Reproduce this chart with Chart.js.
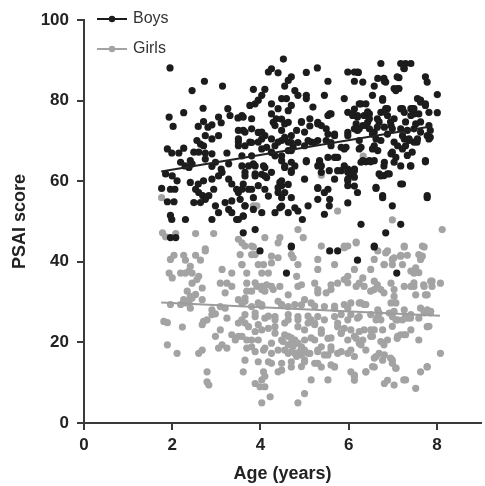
<!DOCTYPE html>
<html>
<head>
<meta charset="utf-8">
<script src="https://cdn.jsdelivr.net/npm/chart.js@4.4.0/dist/chart.umd.min.js"></script>
<style>
  body { margin: 0; background: #fff; }
  canvas { display: block; }
</style>
</head>
<body>
<canvas id="psai" width="485" height="486"></canvas>
<script>
// Axis ticks
const xTicks = [0, 2, 4, 6, 8];
const yTicks = [0, 20, 40, 60, 80, 100];

// Individual children, [age in years, PSAI score]
const boysPoints = [
  [1.95,88.1],[2.73,84.8],[2.45,82.5],[3.14,83.6],[1.93,75.9],[2.02,73.6],[2.26,77.0],[2.70,78.1],[2.59,73.6],[2.71,74.8],
  [2.81,73.4],[2.90,74.0],[3.05,75.9],[3.11,74.5],[3.26,78.0],[3.31,76.3],[3.49,75.7],[3.61,75.9],[2.75,71.3],[2.90,70.5],
  [3.05,71.3],[2.56,70.1],[2.64,69.2],[2.71,68.8],[1.89,68.0],[1.99,67.0],[2.15,67.0],[2.26,68.2],[2.49,67.2],[2.60,67.2],
  [2.75,67.0],[2.90,66.8],[3.24,67.0],[3.50,70.5],[3.50,68.8],[3.61,72.6],[2.19,64.7],[2.29,63.8],[2.38,63.4],[2.41,65.1],
  [2.45,64.3],[2.75,65.5],[2.90,63.7],[2.98,64.7],[3.11,63.0],[3.28,64.3],[2.90,60.5],[2.71,60.1],[2.59,59.3],[2.53,58.0],
  [2.60,57.2],[2.69,56.4],[2.75,55.5],[2.83,56.4],[2.94,58.0],[3.05,61.3],[3.13,62.2],[3.28,60.5],[3.35,59.3],[3.46,58.0],
  [3.50,57.2],[3.54,55.5],[3.61,59.3],[3.65,62.2],[1.85,61.8],[2.00,61.3],[2.11,60.1],[1.76,58.2],[1.96,58.0],[2.06,58.0],
  [1.89,54.9],[2.04,54.9],[1.96,51.5],[1.99,50.5],[1.96,46.0],[2.08,46.0],[2.30,50.5],[2.41,59.7],[2.49,54.7],[2.64,54.7],
  [2.98,53.9],[3.05,52.2],[2.90,50.5],[3.20,54.7],[3.28,53.0],[3.35,52.2],[3.46,50.5],[3.61,51.3],[3.61,47.2],[3.35,55.1],
  [3.65,53.9],
  [4.52,90.3],[4.25,87.9],[4.18,87.1],[4.40,86.9],[5.29,88.1],[5.04,87.0],[5.98,87.1],[6.13,87.1],[6.22,87.0],[6.73,89.2],
  [7.18,89.2],[7.41,89.2],[7.26,87.9],[4.70,85.9],[4.63,85.0],[4.55,83.6],[5.53,84.8],[6.13,84.8],[6.32,84.6],[6.66,85.5],
  [6.81,84.8],[6.58,83.6],[7.14,85.7],[7.03,83.0],[7.11,83.0],[7.74,85.9],[7.78,84.6],[3.84,82.8],[4.10,82.8],[4.03,81.3],
  [3.95,80.1],[4.78,82.5],[4.85,81.3],[5.04,81.3],[5.04,80.5],[5.45,81.3],[4.48,80.5],[4.59,80.5],[5.90,80.5],[6.54,81.3],
  [6.77,80.5],[7.56,80.5],[7.63,79.6],[8.01,81.5],[3.76,78.8],[3.88,79.2],[4.25,79.2],[4.40,78.0],[4.70,78.8],[5.19,78.4],
  [6.28,79.2],[6.39,79.2],[6.88,78.0],[7.18,78.0],[7.41,78.0],[7.74,78.8],[3.58,76.3],[3.80,75.5],[4.25,76.7],[4.36,75.5],
  [4.63,74.6],[4.55,74.2],[4.93,74.8],[5.12,75.5],[5.30,74.6],[5.53,76.3],[5.60,76.7],[6.09,76.7],[6.20,76.3],[6.35,76.3],
  [6.47,76.7],[6.73,77.1],[6.88,76.3],[7.03,75.5],[7.26,77.1],[7.41,76.3],[7.59,76.7],[7.82,77.1],[8.01,77.0],[7.48,78.0],
  [7.82,73.8],[3.50,72.6],[3.65,72.2],[3.80,73.0],[4.03,72.2],[4.10,71.3],[4.33,73.8],[4.48,72.6],[4.70,71.3],[4.82,72.6],
  [5.00,72.2],[5.38,73.8],[5.49,73.0],[5.53,71.7],[5.68,71.3],[5.98,71.3],[6.13,73.0],[6.20,72.6],[6.32,73.8],[6.43,74.6],
  [6.58,72.2],[6.81,73.4],[6.96,73.8],[7.33,72.6],[7.48,73.0],[7.63,72.2],[7.78,71.3],[3.50,69.7],[3.65,68.8],[3.76,69.7],
  [3.95,69.7],[4.14,68.4],[4.25,70.5],[4.33,68.8],[4.40,69.7],[4.55,70.9],[4.63,69.7],[4.74,68.4],[5.00,68.8],[5.15,69.7],
  [5.30,70.1],[5.49,70.1],[5.60,68.8],[5.83,68.4],[5.94,68.4],[6.24,70.1],[6.28,68.4],[6.58,68.8],[6.66,67.6],[6.73,70.1],
  [7.03,69.7],[7.11,68.8],[7.26,70.5],[7.37,70.1],[7.48,69.7],[7.56,70.5],[7.82,70.5],[3.58,66.3],[3.80,66.3],[4.25,67.2],
  [4.33,66.3],[4.48,66.3],[4.63,67.6],[4.70,64.7],[4.55,63.4],[5.04,64.8],[5.34,64.7],[5.30,63.8],[5.53,65.9],[5.68,65.9],
  [5.75,65.9],[5.90,63.8],[5.98,62.2],[6.09,62.2],[6.28,64.7],[6.39,64.8],[6.50,64.8],[6.81,64.7],[6.96,66.8],[7.03,64.7],
  [7.18,63.8],[7.41,63.8],[7.74,64.8],[3.58,63.8],[3.73,63.8],[3.88,63.8],[4.10,63.4],[3.65,61.3],[3.88,61.8],[4.10,61.3],
  [4.25,62.2],[4.44,59.7],[4.48,58.9],[4.70,62.2],[5.38,62.2],[5.56,62.6],[5.68,60.5],[5.75,62.6],[5.98,60.1],[6.13,62.6],
  [6.73,61.3],[6.88,61.8],[3.58,58.0],[3.73,58.0],[3.80,58.0],[3.95,58.9],[4.10,58.0],[4.40,57.2],[4.55,57.2],[4.70,55.9],
  [5.30,58.2],[5.45,57.2],[5.98,58.9],[6.20,57.2],[6.62,58.2],[6.77,55.9],[7.18,59.3],[7.78,55.9],[3.65,53.9],[3.84,53.0],
  [4.03,52.2],[4.33,52.2],[4.44,53.4],[4.63,52.2],[4.85,52.6],[4.95,50.5],[5.08,53.9],[5.45,51.8],[5.56,53.9],[6.99,53.9],
  [3.50,50.5],[3.61,51.4],[6.28,49.3],[7.18,49.3],[3.88,48.0],[6.84,47.2],[4.70,43.9],[6.58,43.9],
  [3.99,42.7],[4.70,43.7],[5.57,42.7],[5.75,42.7],[6.58,43.7],[6.20,40.4],[4.59,37.2],[7.09,37.2],
  [4.29,74.6],[4.48,75.4],[4.63,77.5],[4.93,74.6],[5.12,73.7],[5.30,74.2],[5.57,76.7],[5.68,71.7],[5.98,77.1],[6.13,77.9],
  [5.98,72.1],[3.95,72.1],[4.03,70.5],[3.80,69.6],[4.48,70.1],[4.70,69.6],[4.85,69.6],[5.08,70.1],[5.23,69.6],[5.60,69.6],
  [5.90,68.0],[4.25,67.1],[4.03,68.0],[4.70,67.6],[5.04,65.1],[5.34,65.1],[5.38,63.8],[5.71,65.9],[5.83,62.6],[5.98,63.0],
  [6.05,61.7],[4.48,65.1],[4.55,63.8],[4.70,62.6],[4.78,63.8],[3.84,64.3],[4.07,63.8],[4.03,61.7],[4.14,60.9],[3.88,61.3],
  [4.48,60.1],[4.40,58.4],[4.63,59.2],[5.00,60.5],[5.30,58.4],[5.53,58.0],[5.98,60.5],[6.13,58.8],[3.84,55.9],[4.18,56.3],
  [4.48,55.9],[5.30,55.5],[5.57,55.5],[5.98,54.6],[4.48,53.8],[4.78,53.4],
  [7.29,89.2],[7.25,88.0],[6.20,87.1],[6.80,85.5],[6.84,84.6],[7.10,85.9],[7.07,82.5],[7.14,83.0],[6.77,80.1],[6.24,79.2],
  [7.63,80.1],[7.74,79.2],[6.84,78.0],[6.80,77.2],[7.22,78.0],[7.44,78.0],[7.48,76.7],[6.09,76.3],[6.20,75.9],[6.43,77.2],
  [6.47,75.5],[6.65,75.5],[6.17,74.2],[6.39,73.8],[6.47,73.0],[6.24,73.0],[6.69,74.7],[6.65,73.4],[6.95,74.7],[6.99,73.0],
  [6.88,71.7],[7.29,74.7],[7.52,74.2],[7.63,74.7],[7.85,72.6],[7.85,70.9],[7.18,73.0],[7.22,71.3],[6.54,71.7],[6.62,70.5],
  [7.37,70.5],[7.55,69.7],[7.29,68.8],[6.24,68.0],[6.54,68.0],[6.99,67.2],[7.07,65.9],[7.22,68.0],[7.33,66.4],[7.44,67.2],
  [6.32,65.1],[6.47,65.1],[6.58,65.1],[6.80,63.8],[7.40,63.8],[7.74,65.1],[6.13,63.0],[6.13,61.0],[6.69,61.8],[6.80,61.4],
  [6.92,61.8],[6.62,58.5],[7.22,59.3],[6.77,56.4],[7.78,56.4]
];

const girlsPoints = [
  [1.76,55.9],[1.78,47.2],[1.85,46.2],[2.08,47.0],[2.53,47.0],[2.94,47.0],[2.75,43.2],[3.58,44.7],
  [2.04,41.6],[2.26,41.6],[2.53,41.6],[2.75,42.7],[2.64,40.4],[2.30,40.4],[1.96,40.6],[2.41,38.9],[2.38,37.7],[2.45,37.2],
  [2.30,37.2],[2.60,36.4],[2.19,37.2],[1.93,37.2],[2.00,36.0],[2.45,34.7],[2.56,35.6],[2.68,33.5],[2.34,32.7],[2.41,31.4],
  [2.53,31.9],[2.26,30.6],[2.38,30.2],[2.45,31.0],[2.30,29.8],[1.96,29.4],[2.19,29.4],[2.68,30.6],[2.41,28.5],[2.90,28.1],
  [3.09,28.9],[3.20,28.5],[1.81,25.2],[1.89,24.9],[2.23,23.8],[2.71,25.2],[2.79,25.6],[2.68,24.4],[2.90,26.9],[2.98,27.1],
  [3.24,26.0],[2.98,21.5],[3.09,23.1],[3.35,21.9],[3.50,21.5],[3.43,20.6],[1.89,19.4],[2.11,17.3],[2.60,17.3],[2.68,18.1],
  [3.05,18.6],[3.13,19.4],[3.24,18.6],[2.79,12.7],[2.79,10.2],[2.83,9.4],[3.61,12.7],[3.13,38.1],[3.35,37.2],[3.09,34.7],
  [3.24,34.7],[3.35,33.9],[3.58,39.3],[3.69,37.2],[3.69,32.7],[3.50,30.6],[3.65,30.2],[3.65,24.8],[3.58,25.6],[3.69,20.6],
  [3.69,18.6],[3.20,32.3],
  [3.65,43.9],[3.84,43.7],[4.40,44.7],[5.38,43.9],[5.90,43.5],[5.98,43.9],[6.17,44.7],[6.66,42.7],[7.26,43.7],[7.71,43.7],
  [3.54,41.8],[3.80,41.8],[3.88,41.8],[4.25,41.4],[4.25,39.7],[4.40,41.0],[4.70,41.8],[4.74,41.0],[5.30,40.6],[5.68,39.3],
  [6.58,40.6],[6.81,39.3],[6.88,42.7],[6.99,40.6],[7.03,41.0],[7.18,41.6],[7.33,41.6],[7.59,41.8],[7.63,40.6],[3.58,39.3],
  [3.95,39.3],[4.07,39.3],[4.85,39.3],[5.30,38.1],[6.50,38.1],[4.03,37.2],[4.18,37.2],[4.82,36.4],[7.41,37.7],[7.48,37.2],
  [3.69,34.7],[3.92,33.9],[4.03,33.9],[3.80,32.7],[4.10,32.7],[4.29,33.1],[4.44,33.9],[4.63,31.8],[4.85,33.9],[5.23,34.7],
  [5.30,33.1],[5.49,32.3],[5.60,33.1],[5.75,34.7],[5.90,35.6],[5.98,36.4],[6.24,34.7],[6.35,33.9],[6.58,33.1],[6.96,34.7],
  [7.03,33.1],[7.26,33.9],[7.41,33.9],[7.71,33.9],[7.86,35.2],[8.08,34.7],[7.78,31.8],[3.65,31.0],[3.58,29.8],[3.80,28.9],
  [3.95,29.8],[4.03,29.4],[4.40,30.2],[4.48,29.4],[4.63,28.9],[4.78,29.4],[5.00,30.6],[5.15,29.8],[5.45,28.9],[5.68,28.5],
  [5.90,29.4],[6.05,29.8],[6.28,29.8],[6.35,29.4],[6.66,28.1],[6.96,29.8],[7.03,27.7],[7.26,28.1],[7.41,26.9],[7.63,28.5],
  [7.71,27.3],[7.86,27.7],[3.65,26.9],[3.88,26.4],[4.10,26.0],[4.33,26.4],[4.63,25.6],[4.85,26.4],[5.15,25.6],[5.30,26.4],
  [5.68,26.4],[5.83,26.9],[6.05,26.9],[6.20,26.0],[6.66,26.4],[6.73,25.6],[7.11,25.6],[7.33,26.0],[7.59,26.0],[3.50,24.8],
  [3.73,23.9],[3.95,24.4],[4.18,23.5],[4.33,23.9],[4.55,24.8],[4.85,23.9],[5.08,24.8],[5.23,24.4],[5.38,23.1],[5.75,23.9],
  [5.83,22.3],[5.90,23.5],[6.35,23.1],[6.50,21.5],[6.58,23.1],[7.11,21.5],[7.26,21.9],[7.41,23.1],[7.78,23.9],[3.58,21.5],
  [3.80,20.6],[3.95,20.6],[4.25,19.8],[4.48,20.6],[4.63,21.5],[4.70,19.8],[4.78,20.6],[4.93,18.9],[5.00,20.6],[5.23,20.6],
  [5.38,18.9],[5.53,21.0],[5.60,18.9],[5.98,20.6],[6.13,21.5],[6.24,19.8],[6.73,20.2],[6.88,20.6],[7.59,20.6],[3.80,18.9],
  [4.10,18.6],[4.40,18.1],[4.63,17.3],[4.78,17.3],[4.93,16.9],[5.08,17.3],[5.30,18.1],[5.53,16.9],[5.75,17.3],[6.05,18.1],
  [6.58,16.1],[6.81,16.9],[6.99,15.6],[7.07,13.6],[8.08,17.3],[3.65,15.6],[3.95,15.2],[4.25,14.8],[4.48,14.8],[4.70,13.9],
  [5.00,15.2],[5.23,14.8],[5.38,13.9],[5.68,13.9],[6.05,12.7],[6.13,11.5],[6.39,12.7],[6.58,13.9],[7.63,12.7],[7.78,13.9],
  [4.07,12.7],[4.03,10.7],[4.10,9.0],[3.99,9.0],[4.40,12.7],[5.15,10.7],[5.53,10.7],[6.81,9.8],[7.03,9.4],[7.29,10.7],
  [7.52,8.6],[5.00,7.3],[4.22,6.5],[4.03,5.0],[4.85,5.0],
  [6.33,66.2],[5.38,61.5],[5.45,57.2],[5.75,52.6],[6.99,50.4],[4.85,48.0],[8.12,48.0],[3.84,53.9],[3.92,53.9],[4.10,46.0],
  [4.44,46.0],[4.97,46.0],[6.17,44.9],[5.90,43.9],[7.26,43.9],[7.67,43.9],[3.80,43.9],[3.50,45.6],
  [3.88,34.8],[4.03,33.1],[4.14,34.3],[4.25,33.9],[4.93,34.3],[5.30,32.3],[5.60,34.3],[5.98,34.8],[4.03,29.0],[4.48,29.3],
  [4.93,29.3],[5.23,29.0],[5.68,29.0],[5.98,28.5],[3.88,27.3],[4.18,26.5],[4.33,25.6],[4.63,26.9],[4.85,25.6],[5.08,26.5],
  [5.23,24.8],[5.45,25.6],[5.75,24.8],[5.98,25.6],[3.88,22.7],[4.03,23.1],[4.33,22.3],[4.55,21.9],[4.70,21.1],[5.00,23.1],
  [5.15,21.1],[5.38,22.3],[5.60,21.1],[5.83,22.3],[6.05,23.1],[4.51,20.2],[4.63,19.4],[4.74,19.0],[4.85,19.8],[4.55,18.1],
  [4.70,17.7],[4.89,17.7],[4.82,16.5],[5.00,18.1],[5.12,17.3],[5.30,17.7],[5.45,16.9],[5.60,18.1],[5.83,17.7],[5.98,17.3],
  [6.13,16.5],[3.88,17.7],[4.07,18.1],[4.25,17.3],[4.18,15.2],[4.70,15.2],[5.00,15.6],[5.30,14.8],[5.68,14.0],[4.10,11.6],
  [4.48,13.1],[4.93,14.0],[5.60,14.4],[6.13,10.6],[3.88,9.8],
  [6.84,42.2],[7.18,41.4],[7.67,41.4],[6.80,39.3],[6.99,39.3],[7.22,39.3],[6.13,38.1],[7.52,38.5],[7.59,37.3],[6.32,36.0],
  [6.58,35.2],[6.65,34.3],[6.73,33.1],[6.80,32.3],[6.17,33.9],[6.50,32.7],[7.48,34.8],[7.48,33.9],[7.70,34.3],[7.89,35.2],
  [7.89,33.9],[7.03,31.4],[7.07,29.8],[7.52,31.8],[7.74,31.8],[6.24,29.8],[6.39,29.4],[7.78,28.1],[7.85,27.3],[6.69,27.3],
  [6.92,27.3],[6.99,26.4],[7.07,25.6],[7.22,25.6],[7.29,26.4],[7.40,26.0],[6.24,26.4],[6.50,26.9],[6.62,25.6],[7.82,24.0],
  [6.24,22.7],[6.50,23.1],[6.77,23.1],[6.99,24.0],[7.18,21.9],[7.29,21.9],[7.10,21.0],[6.17,21.0],[6.32,20.6],[6.54,21.5],
  [6.80,19.4],[6.28,19.4],[6.39,18.1],[6.62,16.5],[6.69,17.3],[6.77,15.6],[6.95,16.1],[6.99,14.8],[6.54,14.0],[6.39,12.7],
  [7.07,13.6],[7.78,14.0],[6.88,10.6],[7.25,10.7],[6.13,11.9]
];

// Fitted regression lines (end points)
const boysTrendAge = [1.75, 7.86];
const boysTrendScore = [62.4, 73.6];
const girlsTrendAge = [1.75, 8.07];
const girlsTrendScore = [29.9, 26.6];

const BOYS_COLOR = '#1c1c1c';
const GIRLS_COLOR = '#a3a3a3';
const AXIS_COLOR = '#3a3a3a';
const FONT = '"Liberation Sans", Arial, Helvetica, sans-serif';

const toXY = pts => pts.map(p => ({ x: p[0], y: p[1] }));
const trend = (xs, ys) => xs.map((x, i) => ({ x: x, y: ys[i] }));

// Line-with-dot legend in the top left corner
const legendPlugin = {
  id: 'lineDotLegend',
  afterDraw(chart) {
    const ctx = chart.ctx;
    const items = [
      { label: 'Boys', color: BOYS_COLOR, y: 19 },
      { label: 'Girls', color: GIRLS_COLOR, y: 49 }
    ];
    ctx.save();
    items.forEach(item => {
      ctx.strokeStyle = item.color;
      ctx.fillStyle = item.color;
      ctx.lineWidth = 2;
      ctx.beginPath();
      ctx.moveTo(97, item.y);
      ctx.lineTo(127, item.y);
      ctx.stroke();
      ctx.beginPath();
      ctx.arc(112, item.y, 3.2, 0, Math.PI * 2);
      ctx.fill();
      ctx.fillStyle = '#333';
      ctx.font = '16px ' + FONT;
      ctx.textBaseline = 'middle';
      ctx.textAlign = 'left';
      ctx.fillText(item.label, 133, item.y);
    });
    ctx.restore();
  }
};

const axisGrid = {
  display: true,
  drawOnChartArea: false,
  drawTicks: true,
  tickLength: 7,
  color: AXIS_COLOR,
  lineWidth: 2
};

new Chart(document.getElementById('psai'), {
  type: 'scatter',
  data: {
    datasets: [{
      label: 'Boys fit',
      data: trend(boysTrendAge, boysTrendScore),
      showLine: true,
      borderColor: '#222',
      borderWidth: 2,
      pointRadius: 0,
      order: 0
    }, {
      label: 'Girls fit',
      data: trend(girlsTrendAge, girlsTrendScore),
      showLine: true,
      borderColor: '#9c9c9c',
      borderWidth: 2,
      pointRadius: 0,
      order: 1
    }, {
      label: 'Boys',
      data: toXY(boysPoints),
      backgroundColor: BOYS_COLOR,
      borderWidth: 0,
      pointRadius: 3.6,
      order: 2
    }, {
      label: 'Girls',
      data: toXY(girlsPoints),
      backgroundColor: GIRLS_COLOR,
      borderWidth: 0,
      pointRadius: 3.6,
      order: 3
    }]
  },
  options: {
    responsive: false,
    animation: false,
    layout: { padding: { top: 20, right: 0, bottom: 0, left: 0 } },
    plugins: {
      legend: { display: false },
      tooltip: { enabled: false }
    },
    scales: {
      x: {
        type: 'linear',
        min: 0,
        max: 9,
        afterFit: scale => { scale.height = 63; },
        afterBuildTicks: scale => { scale.ticks = xTicks.map(v => ({ value: v })); },
        border: { color: AXIS_COLOR, width: 2 },
        grid: axisGrid,
        ticks: {
          padding: 5,
          color: '#222',
          font: { family: FONT, size: 17, weight: 'bold' }
        },
        title: {
          display: true,
          text: 'Age (years)',
          color: '#222',
          padding: { top: 0, bottom: 1 },
          font: { family: FONT, size: 18, weight: 'bold' }
        }
      },
      y: {
        min: 0,
        max: 100,
        afterFit: scale => { scale.width = 84; },
        afterBuildTicks: scale => { scale.ticks = yTicks.map(v => ({ value: v })); },
        border: { color: AXIS_COLOR, width: 2 },
        grid: axisGrid,
        ticks: {
          padding: 8,
          color: '#222',
          font: { family: FONT, size: 17, weight: 'bold' }
        },
        title: {
          display: true,
          text: 'PSAI score',
          color: '#222',
          padding: { top: 9, bottom: 0 },
          font: { family: FONT, size: 18, weight: 'bold' }
        }
      }
    }
  },
  plugins: [legendPlugin]
});
</script>
</body>
</html>
